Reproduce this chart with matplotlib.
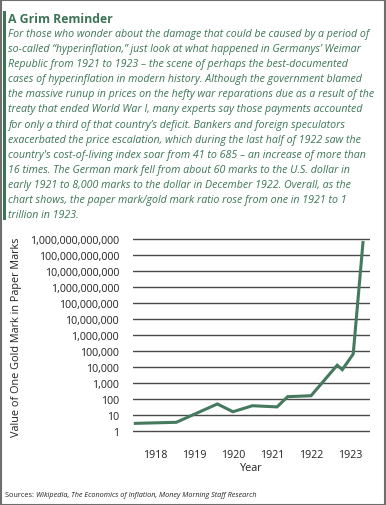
import numpy as np
import matplotlib.pyplot as plt
from matplotlib.patches import Rectangle

# paper marks per gold mark
years = [1917.5, 1918.55, 1919.6, 1920.0, 1920.5, 1921.13, 1921.4, 1922.0,
         1922.67, 1922.8, 1923.08, 1923.33]
values = [3, 3.5, 49, 16, 38, 32, 140, 160, 13000, 6800, 65000, 6e11]

xticks = [1918, 1919, 1920, 1921, 1922, 1923]
ydecades = list(range(0, 13))

title = "A Grim Reminder"
body = [
    "For those who wonder about the damage that could be caused by a period of",
    "so-called \u201chyperinflation,\u201d just look at what happened in Germanys\u2019 Weimar",
    "Republic from 1921 to 1923 \u2013 the scene of perhaps the best-documented",
    "cases of hyperinflation in modern history. Although the government blamed",
    "the massive runup in prices on the hefty war reparations due as a result of the",
    "treaty that ended World War I, many experts say those payments accounted",
    "for only a third of that country\u2019s deficit. Bankers and foreign speculators",
    "exacerbated the price escalation, which during the last half of 1922 saw the",
    "country's cost-of-living index soar from 41 to 685 \u2013 an increase of more than",
    "16 times. The German mark fell from about 60 marks to the U.S. dollar in",
    "early 1921 to 8,000 marks to the dollar in December 1922. Overall, as the",
    "chart shows, the paper mark/gold mark ratio rose from one in 1921 to 1",
    "trillion in 1923.",
]

green = '#3c7556'
W, H = 386, 506
plt.rcParams['font.family'] = ['Open Sans', 'DejaVu Sans']

fig = plt.figure(figsize=(W / 100, H / 100), dpi=100)
fig.patch.set_facecolor('white')

def fx(px):
    return px / W

def fy(py):
    return 1 - py / H

# frame and green side bar
fig.patches.append(Rectangle((0.5 / W, 0.5 / H), 1 - 1.5 / W, 1 - 1.5 / H,
                             transform=fig.transFigure, fill=False,
                             edgecolor='#6e6e6e', lw=1.5))
fig.patches.append(Rectangle((fx(3), fy(221)), 2.5 / W, 209 / H,
                             transform=fig.transFigure, color=green, lw=0))

fig.text(fx(8), fy(23), title, fontsize=8.8, fontweight='bold', color=green,
         va='baseline', ha='left')
for i, line in enumerate(body):
    fig.text(fx(8), fy(37 + 15.1 * i), line, fontsize=7.65, style='italic',
             color=green, va='baseline', ha='left')

# chart
ylo, yhi = -0.15, 12.15
ax = fig.add_axes([fx(133), fy(432 + 16 * 0.15), fx(237), 16 * (yhi - ylo) / H])
for d in ydecades:
    ax.axhline(10.0 ** d, color='#4a4a4a', lw=1.0, zorder=1)
ax.plot(years, values, color='#457a5e', lw=2.2, zorder=3, solid_joinstyle='miter')
ax.set_yscale('log')
ax.set_ylim(10 ** ylo, 10 ** yhi)
ax.set_xlim(1917.44, 1923.51)
ax.set_yticks([10.0 ** d for d in ydecades])
ax.set_yticklabels([f"{10 ** d:,}" for d in ydecades])
ax.minorticks_off()
ax.set_xticks(xticks)
ax.set_xticklabels([str(t) for t in xticks])
ax.tick_params(length=0, labelsize=7.7, colors='#222222')
ax.tick_params(axis='y', pad=10)
ax.tick_params(axis='x', pad=11)
for s in ax.spines.values():
    s.set_visible(False)
ax.set_xlabel("Year", fontsize=7.8, color='#222222', labelpad=2)

fig.text(fx(17), fy(337), "Value of One Gold Mark in Paper Marks", rotation=90,
         fontsize=7.8, color='#222222', ha='center', va='center')

# sources line, plain prefix then italic names
r = fig.canvas.get_renderer()
t = fig.text(fx(5), fy(497), "Sources: ", fontsize=5.2, color='#222222',
             va='baseline', ha='left')
bb = t.get_window_extent(r)
fig.text(bb.x1 / W, fy(497), "Wikipedia, The Economics of Inflation, Money Morning Staff Research",
         fontsize=5.2, style='italic', color='#222222', va='baseline', ha='left')

fig.savefig('out.png', dpi=100)
